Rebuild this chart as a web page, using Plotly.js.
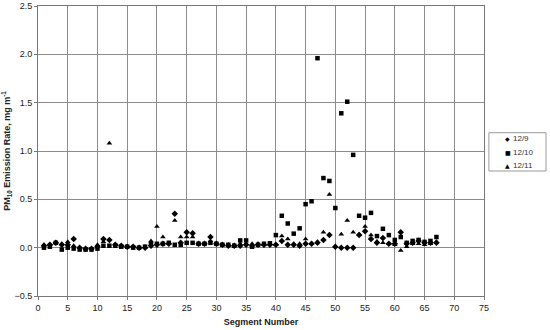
<!DOCTYPE html>
<html>
<head>
<meta charset="utf-8">
<script src="https://cdn.plot.ly/plotly-3.0.1.min.js"></script>
<style>
  html, body { margin: 0; padding: 0; background: #fff; }
  #plot { width: 550px; height: 330px; }
</style>
</head>
<body>
<div id="plot"></div>
<script>
// Segment numbers 1..67
var segments = [];
for (var i = 1; i <= 67; i++) segments.push(i);

var dec9 = [
  0.02, 0.03, 0.05, 0.03, 0.03, 0.09, 0.00, -0.01, -0.01, 0.01,
  0.09, 0.08, 0.03, 0.02, 0.01, 0.01, 0.00, 0.00, 0.02, 0.03,
  0.04, 0.04, 0.35, 0.05, 0.16, 0.15, 0.04, 0.04, 0.11, 0.04,
  0.03, 0.02, 0.02, 0.02, 0.03, 0.02, 0.03, 0.03, 0.03, 0.03,
  0.07, 0.03, 0.03, 0.02, 0.04, 0.04, 0.05, 0.08, 0.13, 0.01,
  0.00, 0.00, 0.00, 0.13, 0.17, 0.09, 0.05, 0.10, 0.04, 0.04,
  0.16, 0.04, 0.05, 0.07, 0.05, 0.05, 0.05
];

var dec10 = [
  0.00, 0.01, 0.05, -0.02, 0.00, -0.01, -0.02, -0.02, -0.02, -0.01,
  0.02, 0.02, 0.02, 0.01, 0.01, 0.00, 0.00, 0.01, 0.04, 0.04,
  0.04, 0.05, 0.03, 0.03, 0.05, 0.05, 0.04, 0.04, 0.05, 0.04,
  0.03, 0.03, 0.02, 0.075, 0.075, 0.01, 0.03, 0.04, 0.045, 0.13,
  0.33, 0.25, 0.145, 0.20, 0.45, 0.48, 1.96, 0.72, 0.69, 0.41,
  1.39, 1.51, 0.96, 0.33, 0.31, 0.36, 0.12, 0.195, 0.13, 0.08,
  0.11, 0.05, 0.07, 0.08, 0.06, 0.07, 0.11
];

var dec11 = [
  0.03, 0.03, 0.05, 0.04, 0.06, 0.02, 0.00, -0.01, -0.01, 0.03,
  0.06, 1.08, 0.03, 0.02, 0.01, 0.01, 0.00, 0.01, 0.07, 0.22,
  0.11, 0.04, 0.28, 0.11, 0.11, 0.11, 0.04, 0.04, 0.07, 0.04,
  0.03, 0.03, 0.02, 0.04, 0.04, 0.04, 0.04, 0.03, 0.04, 0.03,
  0.12, 0.09, 0.04, 0.04, 0.09, 0.045, 0.06, 0.16, 0.55, 0.01,
  0.14, 0.28, 0.16, 0.14, 0.22, 0.13, 0.065, 0.05, 0.04, 0.03,
  -0.03, 0.01, 0.04, 0.04, 0.03, 0.04, 0.06
];

var seriesNames = ["12/9", "12/10", "12/11"];
var seriesGlyphs = ["\u25C6", "\u25A0", "\u25B2"];

var makeTrace = function(values, name, symbol, size) {
  return {
    x: segments,
    y: values,
    name: name,
    type: "scatter",
    mode: "markers",
    showlegend: false,
    marker: { symbol: symbol, size: size, color: "#000" }
  };
};

var traces = [
  makeTrace(dec9, seriesNames[0], "diamond", 5),
  makeTrace(dec10, seriesNames[1], "square", 4.5),
  makeTrace(dec11, seriesNames[2], "triangle-up", 5)
];

var axisFont = { family: "Liberation Sans, Arial, sans-serif", size: 9, color: "#222" };
var legendFont = { family: "Liberation Sans, Arial, sans-serif", size: 8, color: "#333" };

// small boxed legend at the right, like the spreadsheet original
var legendTop = 0.563, legendStep = 0.047;
var annotations = [];
seriesNames.forEach(function(name, k) {
  var yy = legendTop - 0.02 - k * legendStep;
  annotations.push({
    xref: "paper", yref: "paper", x: 1.053, y: yy,
    text: seriesGlyphs[k], showarrow: false,
    xanchor: "center", yanchor: "middle",
    font: { family: "DejaVu Sans", size: 6, color: "#000" }
  });
  annotations.push({
    xref: "paper", yref: "paper", x: 1.061, y: yy,
    text: name, showarrow: false,
    xanchor: "left", yanchor: "middle",
    font: legendFont
  });
});

var layout = {
  width: 550,
  height: 330,
  margin: { l: 38, r: 66, t: 6, b: 34 },
  paper_bgcolor: "#fff",
  plot_bgcolor: "#fff",
  font: axisFont,
  showlegend: false,
  xaxis: {
    range: [0, 75],
    dtick: 5,
    tick0: 0,
    showgrid: true,
    gridcolor: "#8c8c8c",
    gridwidth: 1,
    zeroline: false,
    showline: true,
    linecolor: "#777",
    mirror: true,
    ticks: "outside",
    ticklen: 3,
    tickcolor: "#777",
    tickfont: axisFont,
    title: { text: "<b>Segment Number</b>", font: axisFont, standoff: 6 }
  },
  yaxis: {
    range: [-0.5, 2.5],
    dtick: 0.5,
    tick0: 0,
    tickformat: ".1f",
    showgrid: true,
    gridcolor: "#8c8c8c",
    gridwidth: 1,
    zeroline: false,
    showline: true,
    linecolor: "#777",
    mirror: true,
    ticks: "outside",
    ticklen: 3,
    tickcolor: "#777",
    tickfont: axisFont,
    title: { text: "<b>PM<sub>10</sub> Emission Rate, mg m<sup>-1</sup></b>", font: axisFont, standoff: 4 }
  },
  shapes: [{
    type: "rect", xref: "paper", yref: "paper",
    x0: 1.011, x1: 1.139, y0: 0.431, y1: legendTop,
    line: { color: "#999", width: 1 },
    fillcolor: "#fff"
  }],
  annotations: annotations
};

Plotly.newPlot("plot", traces, layout, { displayModeBar: false, staticPlot: true });
</script>
</body>
</html>
